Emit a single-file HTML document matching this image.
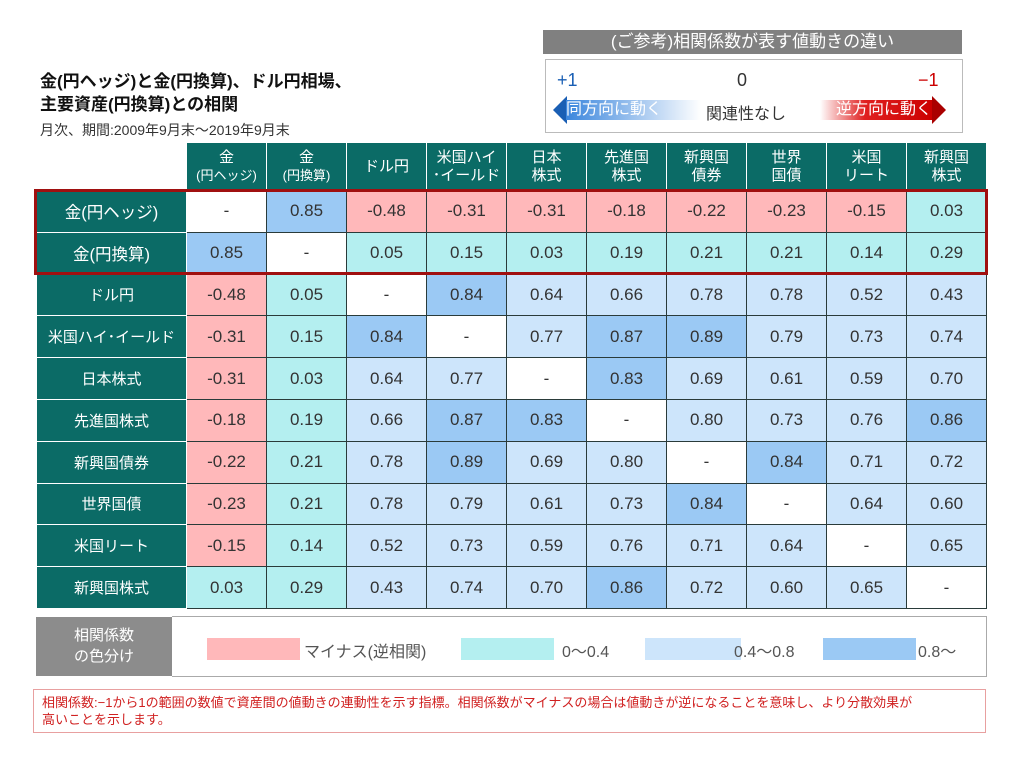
<!DOCTYPE html>
<html><head><meta charset="utf-8"><style>
body{margin:0;width:1024px;height:767px;background:#fff;position:relative;overflow:hidden;font-family:"Liberation Sans","Noto Sans CJK JP",sans-serif;}
.a{position:absolute;}
table{position:absolute;left:36px;top:142px;border-collapse:collapse;table-layout:fixed;}
td{border:1px solid #2a3b3a;text-align:center;font-size:17px;color:#333;height:40.8px;padding:0;width:79px;}
th{background:#0b6b66;color:#fff;font-weight:normal;border:1px solid #fff;border-bottom:1px solid #2a3b3a;font-size:15px;line-height:18px;height:47px;padding:0;}
td.l{background:#0b6b66;color:#fff;width:149px;font-size:15px;border-color:#fff;}
td.L{font-size:16.5px}
.n{background:#ffb8ba}.c{background:#b4eff0}.b{background:#cde5fb}.d{background:#9bc9f4}.w{background:#fff}
.sw{position:absolute;top:638px;height:22px;width:93px;}
.lt{position:absolute;top:638px;font-size:16px;color:#555;}
</style></head><body>
<div class="a" style="left:40px;top:70px;font-size:17px;font-weight:bold;line-height:23px;color:#111">金(円ヘッジ)と金(円換算)、ドル円相場、<br>主要資産(円換算)との相関</div>
<div class="a" style="left:40px;top:120px;font-size:14px;color:#333">月次、期間:2009年9月末～2019年9月末</div>

<div class="a" style="left:543px;top:30px;width:419px;height:24px;background:#808080;color:#fff;font-size:17px;text-align:center;line-height:24px">(ご参考)相関係数が表す値動きの違い</div>
<div class="a" style="left:545px;top:59px;width:416px;height:72px;border:1px solid #bbb;"></div>
<div class="a" style="left:557px;top:70px;font-size:18px;color:#1a5fb4">+1</div>
<div class="a" style="left:737px;top:70px;font-size:18px;color:#333">0</div>
<div class="a" style="left:918px;top:70px;font-size:18px;color:#c00">−1</div>
<div class="a" style="left:553px;top:96px;width:0;height:0;border-top:14px solid transparent;border-bottom:14px solid transparent;border-right:14px solid #1a5fb4"></div>
<div class="a" style="left:566px;top:100px;width:135px;height:20px;background:linear-gradient(90deg,#3b86dd,#fff);color:#fff;font-size:16px;line-height:20px">同方向に動く</div>
<div class="a" style="left:706px;top:100px;font-size:16px;color:#333">関連性なし</div>
<div class="a" style="left:820px;top:100px;width:112px;height:20px;background:linear-gradient(90deg,#fff,#e02020 40%,#c00);color:#fff;font-size:16px;line-height:20px;text-align:right">逆方向に動く</div>
<div class="a" style="left:932px;top:96px;width:0;height:0;border-top:14px solid transparent;border-bottom:14px solid transparent;border-left:14px solid #a00"></div>

<table>
<tr><th style="width:149px;background:#fff;border:none"></th><th>金<br><span style="font-size:13px">(円ヘッジ)</span></th><th>金<br><span style="font-size:13px">(円換算)</span></th><th>ドル円</th><th>米国ハイ<br>･イールド</th><th>日本<br>株式</th><th>先進国<br>株式</th><th>新興国<br>債券</th><th>世界<br>国債</th><th>米国<br>リート</th><th>新興国<br>株式</th></tr>
<tr><td class="l L">金(円ヘッジ)</td><td class="w">-</td><td class="d">0.85</td><td class="n">-0.48</td><td class="n">-0.31</td><td class="n">-0.31</td><td class="n">-0.18</td><td class="n">-0.22</td><td class="n">-0.23</td><td class="n">-0.15</td><td class="c">0.03</td></tr>
<tr><td class="l L">金(円換算)</td><td class="d">0.85</td><td class="w">-</td><td class="c">0.05</td><td class="c">0.15</td><td class="c">0.03</td><td class="c">0.19</td><td class="c">0.21</td><td class="c">0.21</td><td class="c">0.14</td><td class="c">0.29</td></tr>
<tr><td class="l">ドル円</td><td class="n">-0.48</td><td class="c">0.05</td><td class="w">-</td><td class="d">0.84</td><td class="b">0.64</td><td class="b">0.66</td><td class="b">0.78</td><td class="b">0.78</td><td class="b">0.52</td><td class="b">0.43</td></tr>
<tr><td class="l">米国ハイ･イールド</td><td class="n">-0.31</td><td class="c">0.15</td><td class="d">0.84</td><td class="w">-</td><td class="b">0.77</td><td class="d">0.87</td><td class="d">0.89</td><td class="b">0.79</td><td class="b">0.73</td><td class="b">0.74</td></tr>
<tr><td class="l">日本株式</td><td class="n">-0.31</td><td class="c">0.03</td><td class="b">0.64</td><td class="b">0.77</td><td class="w">-</td><td class="d">0.83</td><td class="b">0.69</td><td class="b">0.61</td><td class="b">0.59</td><td class="b">0.70</td></tr>
<tr><td class="l">先進国株式</td><td class="n">-0.18</td><td class="c">0.19</td><td class="b">0.66</td><td class="d">0.87</td><td class="d">0.83</td><td class="w">-</td><td class="b">0.80</td><td class="b">0.73</td><td class="b">0.76</td><td class="d">0.86</td></tr>
<tr><td class="l">新興国債券</td><td class="n">-0.22</td><td class="c">0.21</td><td class="b">0.78</td><td class="d">0.89</td><td class="b">0.69</td><td class="b">0.80</td><td class="w">-</td><td class="d">0.84</td><td class="b">0.71</td><td class="b">0.72</td></tr>
<tr><td class="l">世界国債</td><td class="n">-0.23</td><td class="c">0.21</td><td class="b">0.78</td><td class="b">0.79</td><td class="b">0.61</td><td class="b">0.73</td><td class="d">0.84</td><td class="w">-</td><td class="b">0.64</td><td class="b">0.60</td></tr>
<tr><td class="l">米国リート</td><td class="n">-0.15</td><td class="c">0.14</td><td class="b">0.52</td><td class="b">0.73</td><td class="b">0.59</td><td class="b">0.76</td><td class="b">0.71</td><td class="b">0.64</td><td class="w">-</td><td class="b">0.65</td></tr>
<tr><td class="l">新興国株式</td><td class="c">0.03</td><td class="c">0.29</td><td class="b">0.43</td><td class="b">0.74</td><td class="b">0.70</td><td class="d">0.86</td><td class="b">0.72</td><td class="b">0.60</td><td class="b">0.65</td><td class="w">-</td></tr>
</table>
<div class="a" style="left:34px;top:189px;width:948px;height:80px;border:3px solid #a01010;"></div>

<div class="a" style="left:36px;top:617px;width:136px;height:59px;background:#8c8c8c;color:#fff;font-size:15px;text-align:center;line-height:21px;padding-top:8px;box-sizing:border-box">相関係数<br>の色分け</div>
<div class="a" style="left:172px;top:616px;width:814px;height:59px;border:1px solid #aaa;border-left:none"></div>
<div class="sw" style="left:207px;background:#ffb8ba"></div><div class="lt" style="left:304px">マイナス(逆相関)</div>
<div class="sw" style="left:461px;background:#b4eff0"></div><div class="lt" style="left:562px">0～0.4</div>
<div class="sw" style="left:645px;width:96px;background:#cde5fb"></div><div class="lt" style="left:734px">0.4～0.8</div>
<div class="sw" style="left:823px;background:#9bc9f4"></div><div class="lt" style="left:918px">0.8～</div>

<div class="a" style="left:33px;top:689px;width:953px;height:44px;border:1px solid #e8a0a0;color:#d02020;font-size:13px;line-height:17px;padding:4px 8px;box-sizing:border-box">相関係数:−1から1の範囲の数値で資産間の値動きの連動性を示す指標。相関係数がマイナスの場合は値動きが逆になることを意味し、より分散効果が<br>高いことを示します。</div>
</body></html>
